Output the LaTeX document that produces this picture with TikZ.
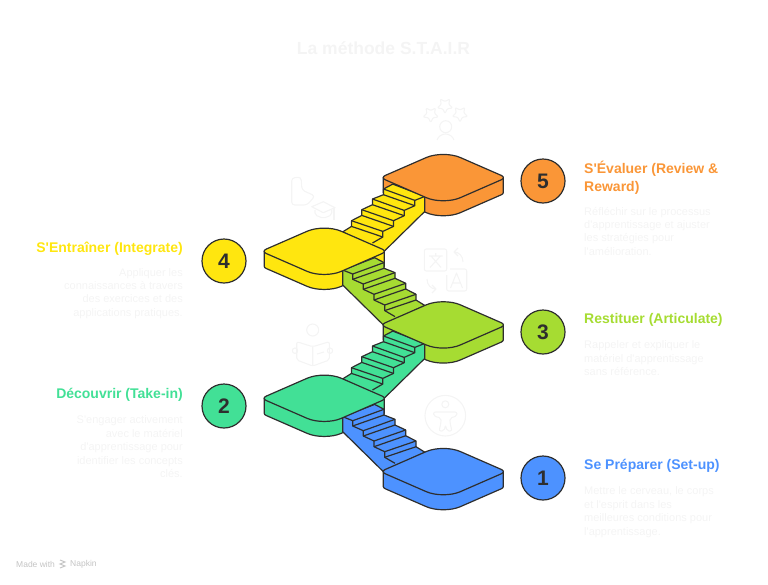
\documentclass[tikz,border=0pt]{standalone}
\usepackage{fontspec}
\setmainfont{Liberation Sans}[Ligatures=TeXOff]
\usetikzlibrary{positioning}
\definecolor{setupblue}{HTML}{4D92FF}
\definecolor{takeinteal}{HTML}{42E096}
\definecolor{articlime}{HTML}{A6DC32}
\definecolor{integyellow}{HTML}{FFE60F}
\definecolor{revieworange}{HTML}{FA9637}
\definecolor{inkgray}{HTML}{2E2E2E}
\definecolor{faintgray}{HTML}{F4F4F4}
\definecolor{footgray}{HTML}{C4C4C4}
\tikzset{
	outline/.style={draw=inkgray,line width=1.2pt,line join=round},
	numdot/.style={circle,outline,minimum size=44pt,inner sep=0pt,font=\fontsize{21}{21}\selectfont\bfseries,text=inkgray},
	headtext/.style={font=\fontsize{14}{18}\selectfont\bfseries,inner sep=0pt},
	bodytext/.style={font=\fontsize{11}{13.35}\selectfont,text=faintgray,inner sep=0pt},
	faint/.style={draw=faintgray,line width=1.1pt,line join=round},
	pics/slab/.style={code={
		\draw[outline,fill=#1] (-60,0) -- (-60,15) .. controls (-60,16) and (-59,16.7) .. (-58,17.18) -- (-17,35.08)
			.. controls (-7.6,39.18) and (7.6,39.18) .. (17,35.08) -- (58,17.18) .. controls (59,16.7) and (60,16) .. (60,15) -- (60,0) -- cycle;
	}},
	pics/slabtop/.style={code={
		\draw[outline,fill=#1] (-58,-2.18) -- (-17,-20.08) .. controls (-7.6,-24.18) and (7.6,-24.18) .. (17,-20.08) -- (58,-2.18)
			.. controls (60.76,-1) and (60.76,1) .. (58,2.18) -- (17,20.08) .. controls (7.6,24.18) and (-7.6,24.18) .. (-17,20.08)
			-- (-58,2.18) .. controls (-60.76,1) and (-60.76,-1) .. cycle;
	}},
	pics/stairs/.style={code={
		\draw[outline,fill=#1] (-100.6,-54.9) -- (-68.6,-67.2) -- (-59.3,-62.3) -- (-59.3,-56.6) -- (-48.3,-52.3) -- (-48.3,-46.6)
			-- (-37.6,-41.6) -- (-37.6,-35.9) -- (-27.3,-30.6) -- (-27.3,-24.9) -- (-18.3,-19.3) -- (-60,0) -- (-100.6,-39.9) -- cycle;
		\draw[outline] (-100.6,-54.9) -- (-90.6,-50.9) -- (-90.6,-45.6) -- (-80,-40.9) -- (-80,-35.6) -- (-69.3,-30.6) -- (-69.3,-24.9)
			-- (-58.6,-19.9) -- (-58.6,-14.3) -- (-48.3,-8.3);
		\draw[outline]
			(-90.6,-50.9) -- (-59.3,-62.3) (-90.6,-45.6) -- (-59.3,-56.6)
			(-80,-40.9) -- (-48.3,-52.3) (-80,-35.6) -- (-48.3,-46.6)
			(-69.3,-30.6) -- (-37.6,-41.6) (-69.3,-24.9) -- (-37.6,-35.9)
			(-58.6,-19.9) -- (-27.3,-30.6) (-58.6,-14.3) -- (-27.3,-24.9);
	}},
	pics/staricon/.style={code={
		\draw[faint,rounded corners=1pt] (90:8) -- (126:4) -- (162:8) -- (198:4) -- (234:8) -- (270:4) -- (306:8) -- (342:4) -- (18:8) -- (54:4) -- cycle;
	}},
}
\begin{document}
\begin{tikzpicture}[x=1pt,y=-1pt]
	\useasboundingbox (0,0) rectangle (768,584);
	% icons behind the stairs
	\pic at (430.7,114.5) {staricon};
	\pic at (445,105.5) {staricon};
	\pic at (460,114) {staricon};
	\draw[faint] (445.7,126.7) circle (6);
	\draw[faint] (437,140) .. controls (440,132) and (451,132) .. (454,140);
	%
	\draw[faint,rounded corners=3pt] (291.7,205) -- (291.7,178) -- (301,177) -- (302,190) -- (315,196) -- (307,205) -- cycle;
	\draw[faint,fill=white] (311.7,206.7) -- (323.3,201.7) -- (335,207.7) -- (323.3,212.7) -- cycle;
	\draw[faint,rounded corners=2pt] (315,210) -- (315,215) -- (323.3,218.3) -- (331.7,215) -- (331.7,210);
	\draw[faint] (334,208) -- (334,220);
	%
	\draw[faint,rounded corners=2pt] (424.3,249) rectangle (446.7,271);
	\draw[faint] (429,256) -- (442.5,256) (435.7,253) -- (435.7,256) (431,256) -- (441,267.5) (440.5,256) -- (430,267.5);
	\draw[faint,rounded corners=2pt] (446.7,275) -- (446.7,291) -- (466.7,291) -- (466.7,269) -- (450,269);
	\draw[faint] (450.5,288) -- (456.5,273) -- (462.5,288) (452.5,283) -- (460.5,283);
	\draw[faint] (463,262) .. controls (463,256) and (459,252) .. (454,252) (458,248) -- (454,252) -- (458,256);
	\draw[faint] (427,279) .. controls (427,285) and (431,289) .. (436,289) (432,285) -- (436,289) -- (432,293);
	%
	\draw[faint] (312.7,330) circle (6);
	\draw[faint,rounded corners=2pt] (312.7,346.7) -- (296.7,341.7) -- (296.7,360) -- (312.7,366) -- (329.3,360) -- (329.3,341.7) -- cycle;
	\draw[faint] (312.7,346.7) -- (312.7,366) (317,354) -- (324,352);
	\draw[faint] (295,350.7) circle (2.7) (330,350.7) circle (2.7);
	%
	\draw[faint] (445.3,415.7) circle (20.3) (445.3,404.3) circle (3.5);
	\draw[faint,rounded corners=2pt] (433.5,412) -- (457,412) -- (457,416) -- (450,418) -- (450,423) -- (452,431) -- (447,431)
		-- (445.5,425) -- (444,431) -- (439,431) -- (441,423) -- (441,418) -- (433.5,416) -- cycle;

	% side faces, then stairs, then top faces
	\pic at (443.3,471.6) {slab=setupblue};
	\pic at (324.2,398.3) {slab=takeinteal};
	\pic at (443.3,324.9) {slab=articlime};
	\pic at (324.2,251.3) {slab=integyellow};
	\pic at (443.3,177.6) {slab=revieworange};

	\pic at (443.3,471.6) {stairs=setupblue};
	\pic[xscale=-1] at (324.2,398.3) {stairs=takeinteal};
	\pic at (443.3,324.9) {stairs=articlime};
	\pic[xscale=-1] at (324.2,251.3) {stairs=integyellow};

	\pic at (443.3,471.6) {slabtop=setupblue};
	\pic at (324.2,398.3) {slabtop=takeinteal};
	\pic at (443.3,324.9) {slabtop=articlime};
	\pic at (324.2,251.3) {slabtop=integyellow};
	\pic at (443.3,177.6) {slabtop=revieworange};

	\node[numdot,fill=setupblue] (dotOne) at (543,478) {1};
	\node[numdot,fill=takeinteal] (dotTwo) at (224,406) {2};
	\node[numdot,fill=articlime] (dotThree) at (543,332) {3};
	\node[numdot,fill=integyellow] (dotFour) at (224,261) {4};
	\node[numdot,fill=revieworange] (dotFive) at (543,181) {5};

	\node[font=\fontsize{17.5}{18}\selectfont\bfseries,text=faintgray,inner sep=0pt] (title) at (383.5,48) {La méthode S.T.A.I.R};

	\node[headtext,text=setupblue,anchor=west] (headOne) at (584,466) {Se Préparer (Set-up)};
	\node[bodytext,align=left,below=14pt of headOne.south west,anchor=north west] (bodyOne)
		{Mettre le cerveau, le corps\\et l'esprit dans les\\meilleures conditions pour\\l'apprentissage.};
	\node[headtext,text=takeinteal,anchor=east] (headTwo) at (183,395) {Découvrir (Take-in)};
	\node[bodytext,align=right,below=14pt of headTwo.south east,anchor=north east] (bodyTwo)
		{S'engager activement\\avec le matériel\\d'apprentissage pour\\identifier les concepts\\clés.};
	\node[headtext,text=articlime,anchor=west] (headThree) at (584,320) {Restituer (Articulate)};
	\node[bodytext,align=left,below=14pt of headThree.south west,anchor=north west] (bodyThree)
		{Rappeler et expliquer le\\matériel d'apprentissage\\sans référence.};
	\node[headtext,text=integyellow,anchor=east] (headFour) at (183,249) {S'Entraîner (Integrate)};
	\node[bodytext,align=right,below=12pt of headFour.south east,anchor=north east] (bodyFour)
		{Appliquer les\\connaissances à travers\\des exercices et des\\applications pratiques.};
	\node[headtext,text=revieworange,align=left,anchor=north west] (headFive) at (584,161) {S'Évaluer (Review \&\\Reward)};
	\node[bodytext,align=left,below=12pt of headFive.south west,anchor=north west] (bodyFive)
		{Réfléchir sur le processus\\d'apprentissage et ajuster\\les stratégies pour\\l'amélioration.};

	\node[font=\fontsize{8.5}{10}\selectfont,text=footgray,inner sep=0pt,anchor=west] (madeWith) at (16,564) {Made with};
	\node[font=\fontsize{8.5}{10}\selectfont,text=footgray,inner sep=0pt,anchor=west] (napkin) at (70,564) {Napkin};
	\draw[footgray,line width=1pt] (60,560) -- (65,562) -- (60,564) -- (65,566) -- (60,568);
\end{tikzpicture}
\end{document}
